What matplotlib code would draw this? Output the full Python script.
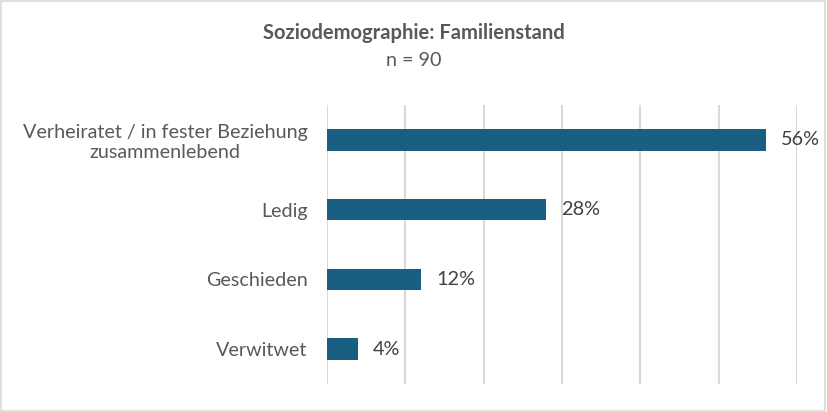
import matplotlib.pyplot as plt
from matplotlib.patches import Rectangle

# data
categories = ["Verheiratet / in fester Beziehung\nzusammenlebend", "Ledig", "Geschieden", "Verwitwet"]
values = [56, 28, 12, 4]
ticks = [0, 10, 20, 30, 40, 50, 60]

bar_color = "#195f82"
text_color = "#595959"

plt.rcParams['font.family'] = ['Lato', 'DejaVu Sans']

fig = plt.figure(figsize=(8.27, 4.12), dpi=100)
ax = fig.add_axes([327 / 827, 1 - 384 / 412, 470 / 827, 279 / 412])

y = list(range(len(categories)))
ax.barh(y, values, height=0.31, color=bar_color, zorder=3)
ax.set_ylim(len(categories) - 0.5, -0.5)
ax.set_xlim(0, 60)

# value labels
for yi, v in zip(y, values):
    ax.text(v + 1.9, yi, f"{v}%", va="center", ha="left", fontsize=14.3, color="#404040")

ax.set_yticks(y)
ax.set_yticklabels(categories, fontsize=14.2, color=text_color, multialignment="center")
ax.tick_params(axis="y", length=0, pad=14)
ax.set_xticks(ticks)
ax.set_xticklabels([])
ax.tick_params(axis="x", length=0)
ax.grid(axis="x", color="#d9d9d9", linewidth=1.5, zorder=0)
for s in ax.spines.values():
    s.set_visible(False)

fig.text(0.5, 1 - 33 / 412, "Soziodemographie: Familienstand", ha="center", va="center",
         fontsize=14.5, fontweight="bold", color=text_color)
fig.text(0.5, 1 - 60 / 412, "n = 90", ha="center", va="center", fontsize=14.2, color=text_color)

# chart border
fig.patches.append(Rectangle((0.001, 0.002), 0.997, 0.996, transform=fig.transFigure,
                             fill=False, edgecolor="#d9d9d9", linewidth=1.2))

plt.savefig("out.png", dpi=100)
